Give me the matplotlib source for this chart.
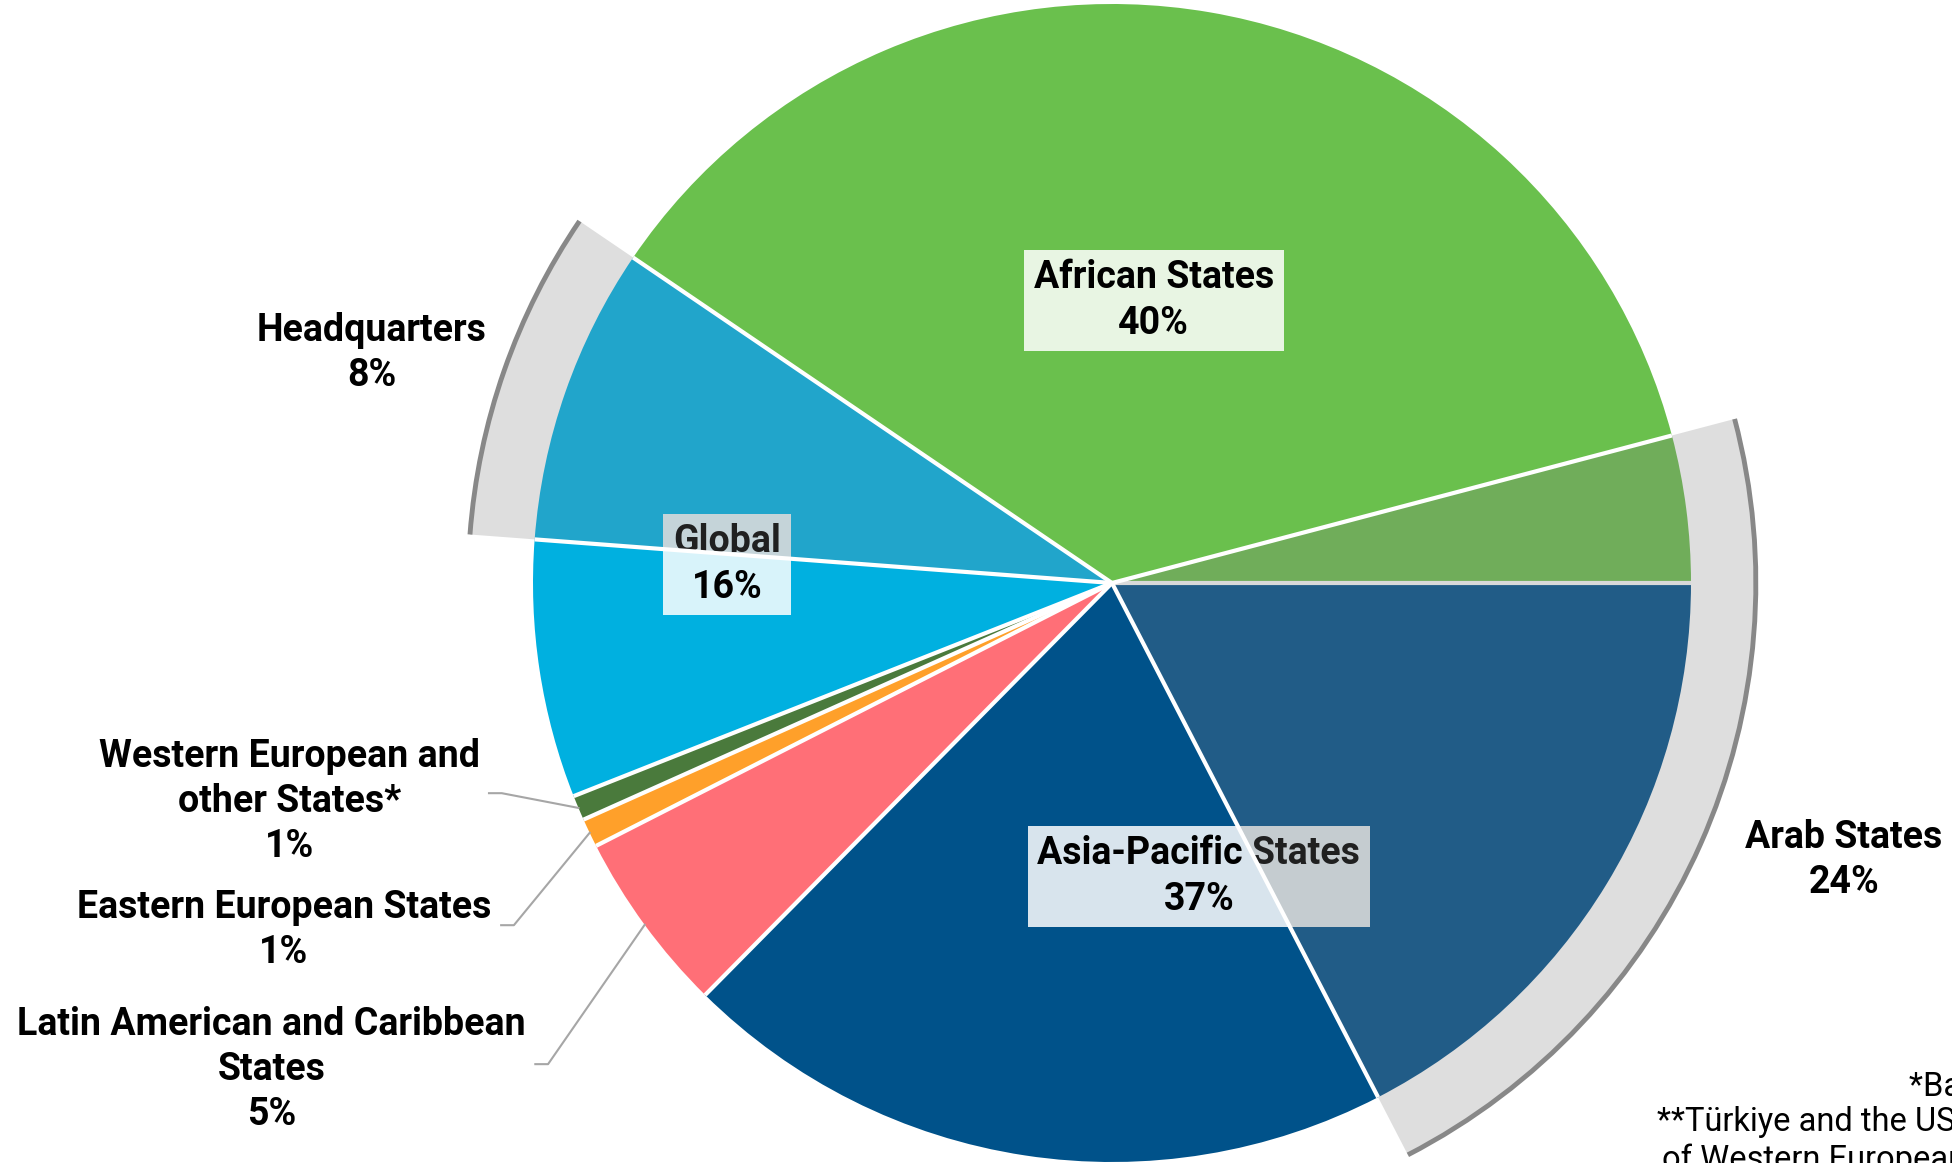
import numpy as np
import matplotlib.pyplot as plt
from matplotlib.patches import Wedge, Arc

plt.rcParams['font.family'] = ['Roboto', 'DejaVu Sans']

# pie slices, counter-clockwise from 3 o'clock
slice_names = ["Arab States (Africa)", "African States", "Headquarters", "Global",
               "Western European and other States", "Eastern European States",
               "Latin American and Caribbean States", "Asia-Pacific States",
               "Arab States (Asia-Pacific)"]
slice_shares = [4.1, 36.4, 8.3, 7.2, 0.7, 0.8, 5.1, 20.0, 17.4]
slice_colors = ["#70AD5A", "#6AC04D", "#21A5CB", "#00B0E0", "#4A7A3C",
                "#FFA02A", "#FF6F77", "#00528A", "#215C87"]

# printed labels
inner_labels = ["African States", "Global", "Asia-Pacific States"]
inner_pcts = [40, 16, 37]
outer_labels = ["Headquarters", "Arab States", "Western European and\nother States*",
                "Eastern European States", "Latin American and Caribbean\nStates"]
outer_pcts = [8, 24, 1, 1, 5]

# slices wrapped by a grey outer band
ring_groups = [[8, 0], [2]]
# slices with a leader line to their outer label
leader_slices = [4, 5, 6]

footnotes = ["*Based on UNESCO electoral groups",
             "**Türkiye and the USA are members",
             "of Western European and other States"]

# layout (data units, pie radius = 1)
inner_pos = [(0.072, 0.488), (-0.665, 0.032), (0.150, -0.507)]
outer_pos = [(-1.278, 0.397), (1.264, -0.479), (-1.421, -0.377),
             (-1.430, -0.600), (-1.452, -0.840)]
leader_elbows = [(-1.054, -0.363), (-1.033, -0.591), (-0.974, -0.831)]
ring_r = 1.112
fs = 27
ls = 1.28

fig = plt.figure(figsize=(19.52, 11.63), dpi=100)
ax = fig.add_axes([0, 0, 1, 1])

wedges, _ = ax.pie(slice_shares, colors=slice_colors, startangle=0, counterclock=True,
                   radius=1, wedgeprops=dict(linewidth=0), center=(0, 0), frame=False)
for w in wedges:
    w.set_zorder(1)
ax.set_xlim(-1112 / 579, 840 / 579)
ax.set_ylim(-580 / 579, 583 / 579)
ax.set_aspect('equal')
ax.axis('off')

bounds = np.concatenate([[0], np.cumsum(slice_shares)]) / sum(slice_shares) * 360

# grey outer bands
for grp in ring_groups:
    t1 = bounds[grp[0]]
    t2 = bounds[grp[-1] + 1]
    if t2 <= t1:
        t2 += 360
    ax.add_patch(Wedge((0, 0), ring_r, t1, t2, facecolor="#DEDEDE", edgecolor="none", zorder=0))
    ax.add_patch(Arc((0, 0), 2 * ring_r, 2 * ring_r, theta1=t1, theta2=t2,
                     color="#888888", lw=3.5, zorder=0.5))

# separators
internal = set()
for grp in ring_groups:
    for a, b in zip(grp[:-1], grp[1:]):
        internal.add(b)
for i, ang in enumerate(bounds[:-1]):
    t = np.deg2rad(ang)
    col = "#D9D9D9" if i in internal else "white"
    ax.plot([0, np.cos(t)], [0, np.sin(t)], color=col, lw=3, zorder=5,
            solid_capstyle='butt')

# inner labels
boxes = []
for lab, pct, (x, y) in zip(inner_labels, inner_pcts, inner_pos):
    t = ax.text(x, y, f"{lab}\n{pct}%", ha='center', va='center', fontsize=fs,
                fontweight='bold', color='black', linespacing=ls, zorder=3,
                bbox=dict(boxstyle='square,pad=0.26', fc=(1, 1, 1, 0.85), ec='none'))
    boxes.append(t)

# outer labels
for lab, pct, (x, y) in zip(outer_labels, outer_pcts, outer_pos):
    ax.text(x, y, f"{lab}\n{pct}%", ha='center', va='center', fontsize=fs,
            fontweight='bold', color='black', linespacing=ls, zorder=3)

# leader lines
for idx, (ex, ey) in zip(leader_slices, leader_elbows):
    mid = np.deg2rad((bounds[idx] + bounds[idx + 1]) / 2)
    ax.plot([ex - 0.022, ex, np.cos(mid)], [ey, ey, np.sin(mid)],
            color="#A6A6A6", lw=1.5, zorder=2)

fig.text(1909 / 1952, 1 - 1087 / 1163, footnotes[0], ha='left', va='center', fontsize=23.5)
fig.text(1657 / 1952, 1 - 1122 / 1163, footnotes[1], ha='left', va='center', fontsize=23.5)
fig.text(1662 / 1952, 1 - 1160 / 1163, footnotes[2], ha='left', va='center', fontsize=23.5)

# grey wash of the banded slices over the label boxes
fig.canvas.draw()
for t in boxes:
    patch = t.get_bbox_patch()
    for grp in ring_groups:
        for idx in grp:
            ov = Wedge((0, 0), 1, bounds[idx], bounds[idx + 1],
                       facecolor=(0.5, 0.5, 0.5, 0.25), edgecolor='none', zorder=4)
            ax.add_patch(ov)
            ov.set_clip_path(patch)

fig.savefig("out.png", dpi=100)
